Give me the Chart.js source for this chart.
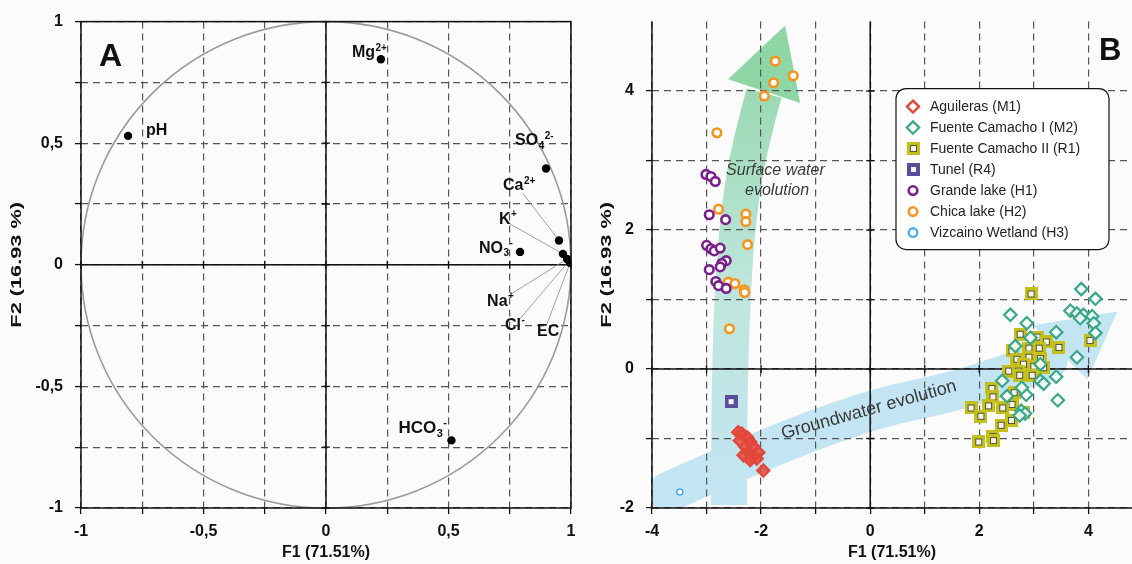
<!DOCTYPE html>
<html><head><meta charset="utf-8">
<script src="https://cdn.jsdelivr.net/npm/chart.js@4.4.1/dist/chart.umd.min.js"></script>
<style>
html,body{margin:0;padding:0;background:#fbfbfb;}
#wrap{position:relative;width:1132px;height:564px;overflow:hidden;background:#fbfbfb;}
canvas{position:absolute;top:0;}
</style></head><body>
<div id="wrap">
<canvas id="cA" width="590" height="564" style="left:0"></canvas>
<canvas id="cB" width="542" height="564" style="left:590px"></canvas>
</div>
<script>
// ---------------- DATA ----------------
// Panel A : variable loadings on F1 / F2
const variableLabels = [
  [['pH','n']],
  [['Mg','n'],['2+','sup']],
  [['SO','n'],['4','sub'],['2-','sup']],
  [['Ca','n'],['2+','sup']],
  [['K','n'],['+','sup']],
  [['NO','n'],['3','sub'],['-','sup']],
  [['Na','n'],['+','sup']],
  [['Cl','n'],['-','sup']],
  [['EC','n']],
  [['HCO','n'],['3','sub'],['-','sup']]
];
const loadingF1 = [-0.808, 0.224, 0.898, 0.951, 0.967, 0.792, 0.984, 0.992, 0.996, 0.512];
const loadingF2 = [0.530, 0.845, 0.396, 0.100, 0.045, 0.053, 0.024, 0.016, 0.008, -0.722];
const ticksA = [-1,-0.75,-0.5,-0.25,0,0.25,0.5,0.75,1];

// Panel B : sample scores on F1 / F2
const seriesNames = ['Aguileras (M1)','Fuente Camacho I (M2)','Fuente Camacho II (R1)','Tunel (R4)','Grande lake (H1)','Chica lake (H2)','Vizcaino Wetland (H3)'];
const aguilerasF1 = [-2.42,-2.35,-2.26,-2.39,-2.20,-2.29,-2.14,-2.23,-2.05,-2.32,-2.17,-2.08,-2.20,-1.96];
const aguilerasF2 = [-0.91,-0.93,-0.98,-1.03,-1.05,-1.12,-1.12,-1.20,-1.20,-1.24,-1.27,-1.29,-1.31,-1.46];
const camacho1F1 = [3.87,4.13,2.57,3.67,3.79,3.91,3.85,4.07,4.10,2.87,4.13,3.41,3.79,2.66,3.41,2.42,3.12,3.18,2.51,2.86,2.78,3.44,2.77,2.84,2.74,2.94,3.12];
const camacho1F2 = [1.15,1.01,0.78,0.84,0.80,0.78,0.73,0.76,0.66,0.66,0.52,0.53,0.17,0.33,-0.11,-0.17,-0.17,-0.21,-0.39,-0.37,-0.27,-0.45,-0.60,-0.64,-0.67,0.45,0.07];
const camacho2F1 = [2.95,2.75,3.06,3.23,3.46,4.03,2.60,2.91,3.10,2.69,2.91,3.12,2.81,3.00,3.18,2.54,2.72,2.74,2.97,2.23,2.25,2.64,2.17,1.85,2.60,2.43,2.03,2.59,2.40,2.25,2.26,1.99,2.81];
const camacho2F2 = [1.08,0.50,0.46,0.39,0.31,0.41,0.26,0.30,0.30,0.14,0.17,0.15,0.07,0.04,0.02,-0.03,-0.03,-0.09,-0.09,-0.28,-0.40,-0.34,-0.53,-0.56,-0.51,-0.56,-0.68,-0.74,-0.81,-0.97,-1.03,-1.05,-0.62];
const tunelF1 = [-2.55];
const tunelF2 = [-0.47];
const grandeF1 = [-3.01,-2.92,-2.84,-2.95,-2.65,-3.00,-2.92,-2.86,-2.75,-2.64,-2.72,-2.75,-2.95,-2.83,-2.78,-2.64];
const grandeF2 = [2.80,2.77,2.70,2.22,2.15,1.78,1.73,1.70,1.74,1.56,1.52,1.47,1.43,1.26,1.20,1.16];
const chicaF1 = [-1.74,-1.41,-1.77,-1.94,-2.81,-2.78,-2.28,-2.28,-2.25,-2.60,-2.48,-2.31,-2.30,-2.58];
const chicaF2 = [4.43,4.22,4.12,3.93,3.40,2.30,2.23,2.12,1.79,1.25,1.23,1.14,1.10,0.58];
const vizcainoF1 = [-3.49];
const vizcainoF2 = [-1.77];
const ticksBx = [-4,-3,-2,-1,0,1,2,3,4];
const ticksBy = [-2,-1,0,1,2,3,4];

// ---------------- STYLE ----------------
const FONT = '"Liberation Sans", Arial, Helvetica, sans-serif';
Chart.defaults.font.family = FONT;

function mkSquare(outer, inner, core){
  const c = document.createElement('canvas'); c.width = 13; c.height = 13;
  const g = c.getContext('2d');
  g.fillStyle = outer; g.fillRect(0,0,13,13);
  if (inner){ g.fillStyle = inner; g.fillRect(3,3,7,7); }
  g.fillStyle = core; g.fillRect(4,4,5,5);
  return c;
}
const fc2Img = mkSquare('#c5c11c', '#55553a', '#f4f4ee');
const tunelImg = mkSquare('#5b4d9d', null, '#f4f4f8');

const seriesStyles = [
  {style:'rectRot', r:6, stroke:'#e2473a', fill:'rgba(228,75,60,0.85)', lw:2.4, legendFill:'#fff'},
  {style:'rectRot', r:6.2, stroke:'#3aa88b', fill:'rgba(255,255,255,0.85)', lw:2.2},
  {style:'img', img:fc2Img, r:6.5},
  {style:'img', img:tunelImg, r:6.5},
  {style:'circle', r:4.3, stroke:'#7a1f8c', fill:'#fff', lw:2.6},
  {style:'circle', r:4.3, stroke:'#f7941d', fill:'#fff', lw:2.6},
  {style:'circle', r:3, stroke:'#4db2e3', fill:'#fff', lw:1.6, legendR:4.3, legendLw:2.4}
];

// annotation geometry (data units of panel B)
const surfaceArrowLine = [[-2.587,-1.957],[-2.587,-0.743],[-2.55,0.543],[-2.477,1.686],[-2.349,2.614],[-2.165,3.329],[-1.945,3.971]];
const surfaceArrowHead = [[-2.606,4.171],[-1.560,4.943],[-1.284,3.829]];
const groundArrowLine = [[-3.706,-1.771],[-2.0,-1.17],[0.0,-0.58],[1.47,-0.34],[2.57,-0.06],[3.25,0.12]];
const groundArrowHead = [[2.99,0.63],[4.532,0.829],[3.98,-0.15]];

function fmtA(v){
  if (Math.abs(v*2 - Math.round(v*2)) > 1e-9) return '';
  if (v === 0) return '0';
  return String(v).replace('.', ',');
}

function drawChem(ctx, parts, x, y, size){
  let cx = x;
  ctx.textAlign = 'left'; ctx.textBaseline = 'alphabetic';
  for (const [t,k] of parts){
    if (k === 'n'){
      ctx.font = 'bold ' + size + 'px ' + FONT;
      ctx.fillText(t, cx, y); cx += ctx.measureText(t).width;
    } else {
      ctx.font = 'bold ' + Math.round(size*0.62) + 'px ' + FONT;
      const yy = k === 'sup' ? y - size*0.42 : y + size*0.22;
      ctx.fillText(t, cx + 0.5, yy); cx += ctx.measureText(t).width + 0.5;
    }
  }
}

function drawYTitle(ctx, text, x, y){
  ctx.save();
  ctx.translate(x, y); ctx.rotate(-Math.PI/2); ctx.scale(1.45, 1);
  ctx.font = 'bold 15px ' + FONT; ctx.fillStyle = '#111';
  ctx.textAlign = 'center'; ctx.textBaseline = 'middle';
  ctx.fillText(text, 0, 0);
  ctx.restore();
}

// label offsets (pixels, relative to the point) for panel A
const labelOffsets = [[18,-1],[-29,-2],[-31,-23],[-56,-50],[-64,-30],[-41,1],[-80,47],[-64,69],[-33,73],[-53,-7]];
const leaderStarts = [null,null,null,[-36,-47],[-53,-30],null,[-56,35],[-50,59],[-23,61],null];
const labelSizes = [16,16,16,16,16,16,16,16,16,17];

const pluginA = {
  id:'panelA',
  beforeDatasetsDraw(chart){
    const {ctx, chartArea:a, scales:{x,y}} = chart;
    ctx.save();
    ctx.strokeStyle = '#9a9a9a'; ctx.lineWidth = 1.6;
    ctx.beginPath();
    ctx.ellipse(x.getPixelForValue(0), y.getPixelForValue(0), x.getPixelForValue(1)-x.getPixelForValue(0), y.getPixelForValue(0)-y.getPixelForValue(1), 0, 0, Math.PI*2);
    ctx.stroke();
    ctx.strokeStyle = '#111'; ctx.lineWidth = 1.5;
    const x0 = x.getPixelForValue(0), y0 = y.getPixelForValue(0);
    ctx.beginPath(); ctx.moveTo(x0, a.top); ctx.lineTo(x0, a.bottom); ctx.moveTo(a.left, y0); ctx.lineTo(a.right, y0); ctx.stroke();
    ctx.lineWidth = 1.3;
    ctx.beginPath();
    for (const v of ticksA){
      const px = x.getPixelForValue(v), py = y.getPixelForValue(v);
      ctx.moveTo(px, y0-4); ctx.lineTo(px, y0+4);
      ctx.moveTo(x0-4, py); ctx.lineTo(x0+4, py);
    }
    ctx.stroke();
    ctx.lineWidth = 1.5; ctx.strokeRect(a.left, a.top, a.right-a.left, a.bottom-a.top);
    ctx.strokeStyle = '#8a8a8a'; ctx.lineWidth = 0.8;
    loadingF1.forEach((v,i)=>{
      if (!leaderStarts[i]) return;
      const px = x.getPixelForValue(v), py = y.getPixelForValue(loadingF2[i]);
      ctx.beginPath(); ctx.moveTo(px+leaderStarts[i][0], py+leaderStarts[i][1]); ctx.lineTo(px, py); ctx.stroke();
    });
    ctx.restore();
  },
  afterDraw(chart){
    const {ctx, scales:{x,y}} = chart;
    ctx.save(); ctx.fillStyle = '#111';
    loadingF1.forEach((v,i)=>{
      const px = x.getPixelForValue(v), py = y.getPixelForValue(loadingF2[i]);
      drawChem(ctx, variableLabels[i], px+labelOffsets[i][0], py+labelOffsets[i][1], labelSizes[i]);
    });
    ctx.font = 'bold 32px ' + FONT; ctx.textAlign = 'left'; ctx.textBaseline = 'alphabetic';
    ctx.fillText('A', 99, 66);
    drawYTitle(ctx, 'F2 (16.93 %)', 17, (chart.chartArea.top + chart.chartArea.bottom)/2);
    ctx.restore();
  }
};

new Chart(document.getElementById('cA'), {
  type:'scatter',
  data:{datasets:[{
    data: loadingF1.map((v,i)=>({x:v, y:loadingF2[i]})),
    pointRadius:4.2, pointHoverRadius:4.2, backgroundColor:'#000', borderWidth:0
  }]},
  options:{
    responsive:false, animation:false, events:[],
    layout:{autoPadding:false, padding:{left:0, right:19, top:18, bottom:0}},
    plugins:{legend:{display:false}, tooltip:{enabled:false}},
    scales:{
      x:{type:'linear', min:-1, max:1,
        afterBuildTicks(s){ s.ticks = ticksA.map(v=>({value:v})); },
        afterFit(s){ s.height = 56; },
        ticks:{callback:fmtA, autoSkip:false, maxRotation:0, padding:8, color:'#111', font:{size:16, weight:'bold'}},
        grid:{color:'#555', lineWidth:1.2, tickLength:6, tickColor:'#111', tickWidth:1.3},
        border:{display:false, dash:[7,5]},
        title:{display:true, text:'F1 (71.51%)', color:'#111', font:{size:16, weight:'bold'}, padding:{top:0, bottom:2}}
      },
      y:{type:'linear', min:-1, max:1,
        afterBuildTicks(s){ s.ticks = ticksA.map(v=>({value:v})); },
        afterFit(s){ s.width = 81; },
        ticks:{callback:fmtA, autoSkip:false, padding:12, color:'#111', font:{size:16, weight:'bold'}},
        grid:{color:'#555', lineWidth:1.2, tickLength:6, tickColor:'#111', tickWidth:1.3},
        border:{display:false, dash:[7,5]}
      }
    }
  },
  plugins:[pluginA]
});

// ---------------- PANEL B ----------------
function smoothStroke(ctx, pts){
  ctx.beginPath(); ctx.moveTo(pts[0][0], pts[0][1]);
  for (let i=1;i<pts.length-1;i++){
    const mx=(pts[i][0]+pts[i+1][0])/2, my=(pts[i][1]+pts[i+1][1])/2;
    ctx.quadraticCurveTo(pts[i][0], pts[i][1], mx, my);
  }
  const l = pts[pts.length-1]; ctx.lineTo(l[0], l[1]);
  ctx.stroke();
}
function drawMarker(ctx, s, x, y, legend){
  const r = legend && s.legendR ? s.legendR : s.r;
  const lw = legend && s.legendLw ? s.legendLw : s.lw;
  if (s.style === 'img'){ ctx.drawImage(s.img, Math.round(x - s.img.width/2), Math.round(y - s.img.height/2)); return; }
  ctx.beginPath();
  if (s.style === 'circle') ctx.arc(x, y, r, 0, Math.PI*2);
  else { ctx.moveTo(x, y-r); ctx.lineTo(x+r, y); ctx.lineTo(x, y+r); ctx.lineTo(x-r, y); ctx.closePath(); }
  ctx.fillStyle = legend && s.legendFill ? s.legendFill : s.fill; ctx.fill();
  ctx.lineWidth = lw; ctx.strokeStyle = s.stroke; ctx.stroke();
}

const pluginB = {
  id:'panelB',
  beforeDraw(chart){
    const {ctx, chartArea:a, scales:{x,y}} = chart;
    const P = p => [x.getPixelForValue(p[0]), y.getPixelForValue(p[1])];
    ctx.save();
    ctx.beginPath(); ctx.rect(a.left, a.top, a.right-a.left, a.bottom-a.top); ctx.clip();
    ctx.lineJoin = 'round';
    ctx.strokeStyle = '#c3e5f3'; ctx.lineWidth = 40; ctx.lineCap = 'round';
    smoothStroke(ctx, groundArrowLine.map(P));
    ctx.fillStyle = '#c3e5f3';
    ctx.beginPath(); groundArrowHead.map(P).forEach((p,i)=> i? ctx.lineTo(p[0],p[1]) : ctx.moveTo(p[0],p[1])); ctx.closePath(); ctx.fill();
    const pts = surfaceArrowLine.map(P);
    const grad = ctx.createLinearGradient(0, pts[0][1], 0, P(surfaceArrowHead[1])[1]);
    grad.addColorStop(0, '#c3e5f3'); grad.addColorStop(0.45, '#bfe6dc'); grad.addColorStop(1, '#8fd6a6');
    ctx.strokeStyle = grad; ctx.lineWidth = 36; ctx.lineCap = 'butt';
    smoothStroke(ctx, pts);
    ctx.fillStyle = '#8fd6a6';
    ctx.beginPath(); surfaceArrowHead.map(P).forEach((p,i)=> i? ctx.lineTo(p[0],p[1]) : ctx.moveTo(p[0],p[1])); ctx.closePath(); ctx.fill();
    ctx.restore();
  },
  beforeDatasetsDraw(chart){
    const {ctx, chartArea:a, scales:{x,y}} = chart;
    ctx.save();
    const x0 = x.getPixelForValue(0), y0 = y.getPixelForValue(0);
    ctx.strokeStyle = '#111'; ctx.lineWidth = 1.5;
    ctx.beginPath();
    ctx.moveTo(x0, a.top); ctx.lineTo(x0, a.bottom);
    ctx.moveTo(a.left, y0); ctx.lineTo(a.right, y0);
    ctx.moveTo(a.left, a.top); ctx.lineTo(a.left, a.bottom); ctx.lineTo(a.right, a.bottom);
    ctx.stroke();
    ctx.lineWidth = 1.3; ctx.beginPath();
    for (const v of ticksBx){ const px = x.getPixelForValue(v); ctx.moveTo(px, y0-4); ctx.lineTo(px, y0+4); }
    for (const v of ticksBy){ const py = y.getPixelForValue(v); ctx.moveTo(x0-4, py); ctx.lineTo(x0+4, py); }
    ctx.stroke();
    ctx.fillStyle = '#3a3a3a';
    ctx.font = 'italic 16px ' + FONT; ctx.textAlign = 'left'; ctx.textBaseline = 'alphabetic';
    ctx.fillText('Surface water', x.getPixelForValue(-2.642), y.getPixelForValue(2.786));
    ctx.fillText('evolution', x.getPixelForValue(-2.294), y.getPixelForValue(2.50));
    ctx.save();
    ctx.translate(x.getPixelForValue(0.0), y.getPixelForValue(-0.66));
    ctx.rotate(-15.5*Math.PI/180);
    ctx.font = '18px ' + FONT; ctx.textAlign = 'center';
    ctx.fillText('Groundwater evolution', 0, 0);
    ctx.restore();
    ctx.restore();
  },
  afterDraw(chart){
    const {ctx, chartArea:a} = chart;
    ctx.save();
    const L = a.right - 236, T = a.top + 67, W = 213, H = 161, R = 10;
    ctx.beginPath();
    ctx.moveTo(L+R, T); ctx.lineTo(L+W-R, T); ctx.arcTo(L+W, T, L+W, T+R, R);
    ctx.lineTo(L+W, T+H-R); ctx.arcTo(L+W, T+H, L+W-R, T+H, R);
    ctx.lineTo(L+R, T+H); ctx.arcTo(L, T+H, L, T+H-R, R);
    ctx.lineTo(L, T+R); ctx.arcTo(L, T, L+R, T, R); ctx.closePath();
    ctx.fillStyle = '#ffffff'; ctx.fill();
    ctx.strokeStyle = '#111'; ctx.lineWidth = 1.2; ctx.stroke();
    seriesNames.forEach((n,i)=>{
      const cy = T + 18 + i*21;
      drawMarker(ctx, seriesStyles[i], L + 17, cy, true);
      ctx.fillStyle = '#222'; ctx.font = '14px ' + FONT; ctx.textAlign = 'left'; ctx.textBaseline = 'middle';
      ctx.fillText(n, L + 34, cy + 1);
    });
    ctx.fillStyle = '#111'; ctx.font = 'bold 31px ' + FONT; ctx.textBaseline = 'alphabetic';
    ctx.fillText('B', 509, 60);
    drawYTitle(ctx, 'F2 (16.93 %)', 17, (a.top + a.bottom)/2);
    ctx.restore();
  }
};

const seriesF1 = [aguilerasF1, camacho1F1, camacho2F1, tunelF1, grandeF1, chicaF1, vizcainoF1];
const seriesF2 = [aguilerasF2, camacho1F2, camacho2F2, tunelF2, grandeF2, chicaF2, vizcainoF2];
const drawOrder = [1,2,0,3,4,5,6];
const datasetsB = drawOrder.map(i=>{
  const s = seriesStyles[i];
  return {
    label: seriesNames[i],
    data: seriesF1[i].map((v,j)=>({x:v, y:seriesF2[i][j]})),
    pointStyle: s.style === 'img' ? s.img : s.style,
    pointRadius: s.r, pointHoverRadius: s.r,
    borderColor: s.stroke || '#000', backgroundColor: s.fill || '#fff', borderWidth: s.lw || 1
  };
});

new Chart(document.getElementById('cB'), {
  type:'scatter',
  data:{datasets: datasetsB},
  options:{
    responsive:false, animation:false, events:[],
    layout:{autoPadding:false, padding:{left:0, right:0, top:18, bottom:0}},
    plugins:{legend:{display:false}, tooltip:{enabled:false}},
    scales:{
      x:{type:'linear', min:-4, max:4.8,
        afterBuildTicks(s){ s.ticks = ticksBx.map(v=>({value:v})); },
        afterFit(s){ s.height = 56; },
        ticks:{callback:v => (v % 2 === 0 ? String(v) : ''), autoSkip:false, maxRotation:0, padding:8, color:'#111', font:{size:16, weight:'bold'}},
        grid:{color:'#555', lineWidth:1.2, tickLength:6, tickColor:'#111', tickWidth:1.3},
        border:{display:false, dash:[7,5]},
        title:{display:true, text:'F1 (71.51%)', color:'#111', font:{size:16, weight:'bold'}, padding:{top:0, bottom:2}}
      },
      y:{type:'linear', min:-2, max:5,
        afterBuildTicks(s){ s.ticks = ticksBy.map(v=>({value:v})); },
        afterFit(s){ s.width = 62; },
        ticks:{callback:v => (v % 2 === 0 ? String(v) : ''), autoSkip:false, padding:12, color:'#111', font:{size:16, weight:'bold'}},
        grid:{color:'#555', lineWidth:1.2, tickLength:6, tickColor:'#111', tickWidth:1.3},
        border:{display:false, dash:[7,5]}
      }
    }
  },
  plugins:[pluginB]
});
</script>
</body></html>
